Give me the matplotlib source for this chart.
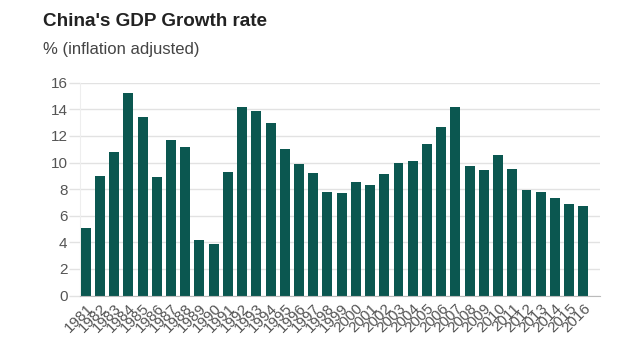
import matplotlib
matplotlib.use("Agg")
import matplotlib.pyplot as plt

years = [str(y) for y in range(1981, 2017)]
growth = [5.1, 9.0, 10.8, 15.2, 13.4, 8.9, 11.7, 11.2, 4.2, 3.9,
          9.3, 14.2, 13.9, 13.0, 11.0, 9.9, 9.2, 7.8, 7.7, 8.5,
          8.3, 9.1, 10.0, 10.1, 11.4, 12.7, 14.2, 9.7, 9.4, 10.6,
          9.5, 7.9, 7.8, 7.3, 6.9, 6.7]
yticks = [0, 2, 4, 6, 8, 10, 12, 14, 16]

plt.rcParams['font.family'] = ['Liberation Sans', 'DejaVu Sans']

fig = plt.figure(figsize=(6.4, 3.6), dpi=100)
fig.patch.set_facecolor('white')
ax = fig.add_axes([80/640, (360-295.5)/360, 520/640, (295.5-82.7)/360])

x = list(range(len(years)))
ax.bar(x, growth, width=0.7, color='#0b5750', zorder=3)

ax.set_ylim(0, 16)
ax.set_xlim(-0.40, 36.17)
ax.set_yticks(yticks)
ax.set_yticklabels([str(v) for v in yticks], fontsize=11, color='#555555')
ax.set_xticks(x)
ax.set_xticklabels(years, rotation=45, ha='right', rotation_mode='anchor',
                   fontsize=11, color='#555555')
ax.tick_params(axis='y', length=8, color='#e2e2e2', width=1, pad=1)
ax.tick_params(axis='x', length=0, pad=4)
ax.grid(axis='y', color='#e2e2e2', linewidth=1, zorder=0)
for s in ['top', 'right']:
    ax.spines[s].set_visible(False)
ax.spines['left'].set_color('#eeeeee')
ax.spines['bottom'].set_color('#bbbbbb')
ax.spines['bottom'].set_zorder(4)

fig.text(43/640, 1 - 21/360, "China's GDP Growth rate", fontsize=13.6, fontweight='bold',
         color='#222222', va='center', ha='left')
fig.text(43/640, 1 - 49.5/360, "% (inflation adjusted)", fontsize=12,
         color='#444444', va='center', ha='left')

fig.savefig('out.png', dpi=100, facecolor='white')
